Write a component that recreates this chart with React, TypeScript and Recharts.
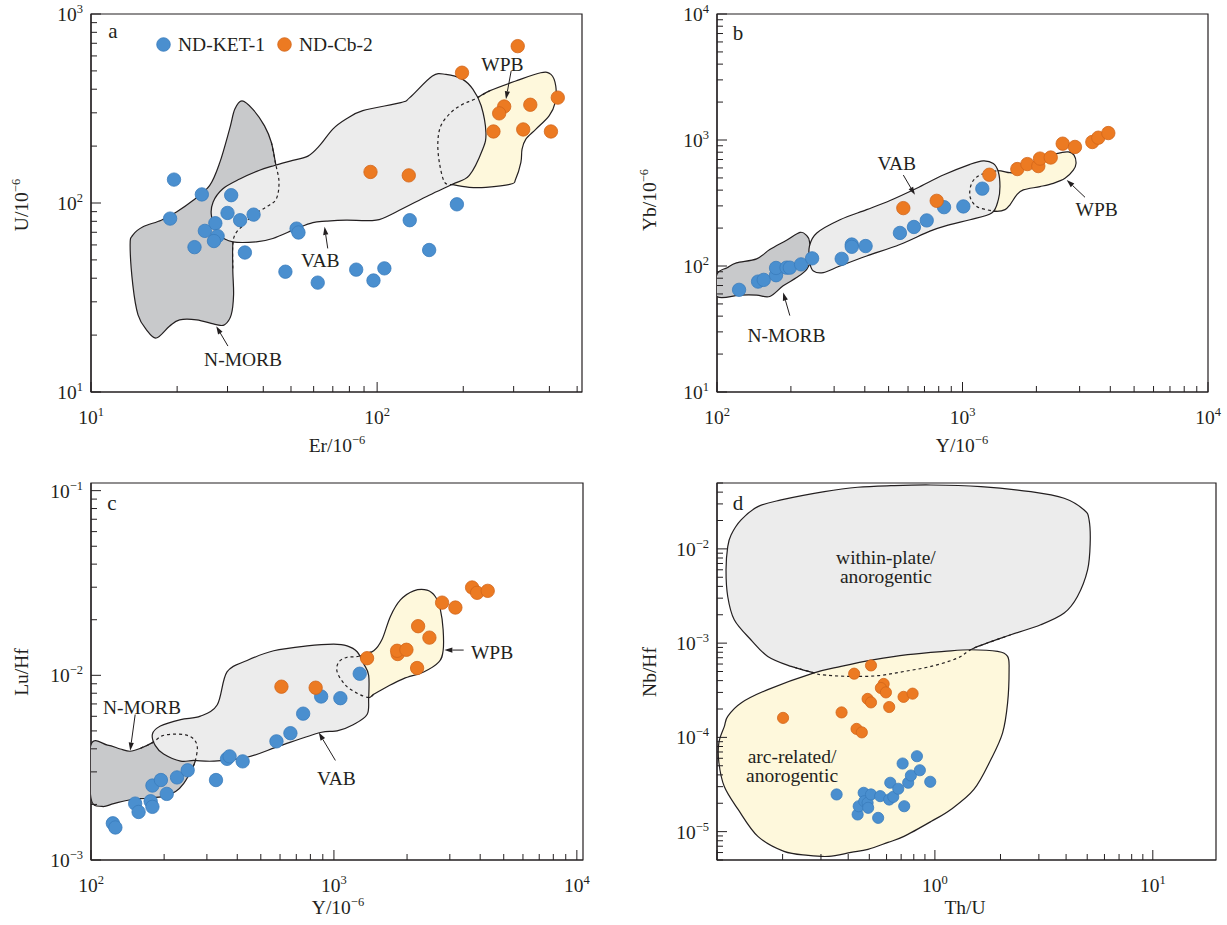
import React from 'react';
import { ScatterChart, Scatter, XAxis, YAxis, ReferenceArea } from 'recharts';

type Pair = [number, number];
type Note = { x: number; y: number; text: string };

const INK = '#231f20';
const FONT = '"Liberation Serif", "Times New Roman", serif';
const FS = 19.5;
const SUP = 12.5;
const BLUE = '#4a8fcf';
const BLUE_EDGE = '#3a7cbc';
const ORANGE = '#ec7a22';
const ORANGE_EDGE = '#d2661a';
const NMORB_FILL = '#c8c9cb';
const GREY_FILL = '#ececec';
const YELLOW_FILL = '#fef8dc';

const SERIES = [
  { name: 'ND-KET-1', color: BLUE, edge: BLUE_EDGE },
  { name: 'ND-Cb-2', color: ORANGE, edge: ORANGE_EDGE },
];

// ---------- a: U vs Er ----------
const erU_KET: Pair[] = [
  [19.5, 133], [18.9, 82.7], [24.4, 111], [30.9, 110], [30.0, 88.6], [33.2, 81.1], [37.0, 86.8],
  [27.2, 78.2], [25.0, 71.2], [27.7, 66.8], [26.9, 62.9], [23.0, 58.4], [34.5, 54.7],
  [52.3, 73.2], [53.1, 69.8], [47.8, 43.3], [62.0, 37.9], [84.5, 44.4], [97.1, 38.9],
  [106, 45.1], [130, 81.1], [152, 56.4], [190, 98.4],
];
const erU_CB: Pair[] = [
  [310, 676], [198, 489], [278, 324], [267, 298], [343, 331], [428, 361],
  [255, 239], [324, 245], [405, 239], [94.8, 146], [129, 140],
];
const erU_NMORB: Pair[] = [
  [33.7, 347], [36.8, 313], [40.4, 256], [42.7, 209], [44.2, 161], [45.4, 129], [44.4, 105],
  [41.0, 95.3], [36.8, 86.1], [34.0, 76.3], [31.5, 64.9], [31.3, 45.1], [31.5, 32.7], [30.9, 25.6],
  [29.3, 22.7], [27.4, 22.7], [23.4, 24.1], [20.4, 24.1], [18.8, 22.3], [16.9, 19.3], [15.6, 21.4],
  [14.6, 25.6], [14.0, 36.9], [13.7, 59.9], [14.0, 67.6], [15.2, 74.8], [17.6, 81.1], [19.9, 89.7],
  [22.7, 103], [26.0, 124], [28.2, 164], [30.5, 246], [31.8, 313],
];
const erU_VAB: Pair[] = [
  [26.4, 84.4], [26.7, 101], [28.9, 119], [33.1, 134], [38.8, 149], [43.8, 158], [50.7, 168],
  [57.3, 177], [62.9, 201], [70.0, 246], [77.9, 278], [89.1, 308], [121, 340], [130, 361],
  [156, 470], [174, 479], [199, 451], [216, 400], [231, 327], [240, 236], [234, 193], [210, 140],
  [184, 126], [152, 110], [116.5, 89.7], [99.2, 81.1], [77.9, 81.1], [66.4, 80.1], [59.6, 78.8],
  [52.2, 73.2], [43.2, 64.9], [37.8, 62.3], [31.3, 62.3], [28.2, 67.6],
];
const erU_WPB: Pair[] = [
  [172, 129], [165, 164], [163, 209], [167, 256], [181, 301], [199, 333], [219, 354], [247, 392],
  [305, 442], [373, 489], [405, 479], [421, 416], [419, 340], [399, 289], [359, 246], [331, 218],
  [321, 193], [318, 164], [305, 134], [294, 126], [240, 121], [210, 121], [184, 125],
];
const erU_NOTES: Note[] = [
  { x: 274, y: 541, text: 'WPB' },
  { x: 63.3, y: 49.9, text: 'VAB' },
  { x: 34.0, y: 14.9, text: 'N-MORB' },
];
const erU_ARROWS: Pair[][] = [
  [[294, 499], [282, 354]],
  [[67.2, 57.5], [65.5, 74.8]],
  [[30.1, 17.5], [27.4, 22.3]],
];

// ---------- b: Yb vs Y ----------
const yYb_KET: Pair[] = [
  [123, 64.7], [147, 75.2], [155, 77.6], [174, 84.5], [174, 96.5], [192, 97], [198, 97],
  [220, 103], [244, 115], [322, 114], [354, 148], [354, 142], [403, 144], [556, 183],
  [634, 204], [715, 230], [841, 293], [1008, 297], [1204, 411],
];
const yYb_CB: Pair[] = [
  [574, 288], [785, 329], [1286, 530], [1672, 588], [1837, 644], [2036, 621], [2069, 712],
  [2288, 726], [2559, 935], [2872, 881], [3379, 964], [3574, 1043], [3926, 1135],
];
const yYb_NMORB: Pair[] = [
  [100, 86], [110, 97], [120, 106], [145, 114], [164, 135], [192, 160], [218, 185], [232, 174],
  [238, 157], [241, 113], [232, 94.2], [211, 80.9], [186, 69.6], [164, 57.3], [145, 58.8],
  [124, 58.8], [100, 57.3],
];
const yYb_VAB: Pair[] = [
  [238, 144], [255, 183], [317, 233], [407, 280], [507, 331], [651, 414], [835, 527],
  [1073, 641], [1215, 683], [1335, 651], [1399, 560], [1421, 427], [1399, 335], [1315, 263],
  [1073, 233], [889, 213], [737, 189], [556, 148], [407, 120], [317, 100], [271, 88.6],
  [247, 91.3], [239, 106],
];
const yYb_WPB: Pair[] = [
  [1294, 276], [1142, 297], [1073, 356], [1090, 453], [1178, 527], [1378, 570], [1561, 550],
  [1688, 560], [1884, 651], [2134, 712], [2419, 780], [2698, 804], [2846, 758], [2900, 651],
  [2827, 577], [2615, 496], [2344, 453], [2069, 427], [1769, 402], [1663, 367], [1561, 306],
  [1490, 280], [1378, 271],
];
const yYb_NOTES: Note[] = [
  { x: 540, y: 651, text: 'VAB' },
  { x: 192, y: 28.1, text: 'N-MORB' },
  { x: 3521, y: 280, text: 'WPB' },
];
const yYb_ARROWS: Pair[][] = [
  [[574, 527], [640, 367]],
  [[198, 40.4], [186, 61.6]],
  [[3155, 351], [2658, 482]],
];

// ---------- c: Lu/Hf vs Y ----------
const yLuHf_KET: Pair[] = [
  [123, 0.00158], [126, 0.0015], [152, 0.00202], [157, 0.00182], [176, 0.00208], [179, 0.00194],
  [179, 0.00253], [194, 0.00271], [205, 0.00228], [226, 0.0028], [250, 0.00306], [327, 0.00271],
  [363, 0.00353], [372, 0.00364], [421, 0.00342], [580, 0.00439], [662, 0.00486], [747, 0.0062],
  [886, 0.00768], [1063, 0.00752], [1277, 0.0102],
];
const yLuHf_CB: Pair[] = [
  [608, 0.00868], [841, 0.00857], [1369, 0.01238], [1830, 0.01304], [1820, 0.01358],
  [1988, 0.01375], [2221, 0.01845], [2472, 0.016], [2200, 0.01095], [2788, 0.02475],
  [3162, 0.02328], [3705, 0.02989], [3885, 0.02798], [4296, 0.02867],
];
const yLuHf_NMORB: Pair[] = [
  [100, 0.00421], [117, 0.00419], [132, 0.00399], [145, 0.00388], [160, 0.00403], [179, 0.00432],
  [196, 0.0047], [219, 0.0048], [245, 0.00476], [265, 0.00451], [274, 0.00407], [269, 0.00346],
  [261, 0.00312], [241, 0.0026], [223, 0.00235], [199, 0.00221], [170, 0.00216], [145, 0.00212],
  [124, 0.00202], [111, 0.00195], [100, 0.00216],
];
const yLuHf_VAB: Pair[] = [
  [179, 0.0048], [193, 0.00531], [234, 0.00576], [282, 0.00601], [331, 0.00693], [363, 0.01043],
  [439, 0.01202], [565, 0.01358], [776, 0.01444], [998, 0.01474], [1133, 0.01444], [1246, 0.01342],
  [1326, 0.01154], [1390, 0.01], [1390, 0.00752], [1369, 0.00613], [1206, 0.00542], [1031, 0.005],
  [880, 0.0049], [602, 0.00416], [439, 0.0036], [320, 0.00343], [265, 0.00346], [234, 0.00343],
  [199, 0.00375], [184, 0.00416],
];
const yLuHf_WPB: Pair[] = [
  [1265, 0.01268], [1458, 0.01358], [1579, 0.01567], [1708, 0.02085], [1878, 0.02559],
  [2130, 0.02867], [2418, 0.02892], [2617, 0.02664], [2744, 0.02264], [2815, 0.01772],
  [2815, 0.01358], [2700, 0.01178], [2342, 0.01043], [1937, 0.0096], [1655, 0.00868],
  [1458, 0.0079], [1390, 0.00758], [1246, 0.008], [1115, 0.00885], [1031, 0.01043],
  [1047, 0.01178], [1133, 0.01253],
];
const yLuHf_NOTES: Note[] = [
  { x: 162, y: 0.00671, text: 'N-MORB' },
  { x: 1024, y: 0.00276, text: 'VAB' },
  { x: 4477, y: 0.01332, text: 'WPB' },
];
const yLuHf_ARROWS: Pair[][] = [
  [[152, 0.00613], [145, 0.00391]],
  [[1014, 0.00346], [866, 0.0049]],
  [[3421, 0.0137], [2849, 0.0137]],
];

// ---------- d: Nb/Hf vs Th/U ----------
const thuNbHf_KET: Pair[] = [
  [0.354, 2.48e-5], [0.442, 1.52e-5], [0.447, 1.86e-5], [0.471, 2.58e-5], [0.474, 2.1e-5],
  [0.491, 2.02e-5], [0.494, 1.79e-5], [0.509, 2.48e-5], [0.549, 1.4e-5], [0.561, 2.38e-5],
  [0.617, 2.19e-5], [0.624, 3.3e-5], [0.644, 2.34e-5], [0.679, 2.85e-5], [0.711, 5.28e-5],
  [0.723, 1.86e-5], [0.754, 3.3e-5], [0.776, 3.94e-5], [0.827, 6.31e-5], [0.853, 4.48e-5],
  [0.952, 3.38e-5],
];
const thuNbHf_CB: Pair[] = [
  [0.201, 1.61e-4], [0.373, 1.84e-4], [0.426, 4.74e-4], [0.509, 5.8e-4], [0.582, 3.69e-4],
  [0.565, 3.34e-4], [0.596, 3.0e-4], [0.491, 2.56e-4], [0.509, 2.35e-4], [0.617, 2.1e-4],
  [0.718, 2.69e-4], [0.79, 2.91e-4], [0.437, 1.23e-4], [0.462, 1.13e-4],
];
const thuNbHf_PLATE: Pair[] = [
  [0.11, 0.00599], [0.112, 0.01058], [0.116, 0.01407], [0.129, 0.0203], [0.154, 0.02806],
  [0.197, 0.03305], [0.311, 0.04046], [0.442, 0.04504], [0.628, 0.04684], [0.959, 0.04764],
  [1.626, 0.04571], [2.756, 0.04046], [3.919, 0.03444], [4.84, 0.02588], [5.1, 0.0203],
  [5.16, 0.01149], [5.02, 0.00599], [4.51, 0.003125], [3.92, 0.002085], [3.06, 0.001566],
  [2.23, 0.001227], [1.514, 0.000887], [1.271, 0.000695], [0.959, 0.000566], [0.723, 0.000501],
  [0.546, 0.000451], [0.398, 0.000444], [0.3, 0.000463], [0.279, 0.000483], [0.219, 0.000566],
  [0.171, 0.000723], [0.143, 0.001086], [0.12, 0.00177], [0.112, 0.003125],
];
const thuNbHf_ARC: Pair[] = [
  [0.112, 1.673e-4], [0.129, 2.32e-4], [0.171, 3.21e-4], [0.279, 4.83e-4], [0.371, 5.66e-4],
  [0.527, 6.67e-4], [0.75, 7.54e-4], [1.103, 8.17e-4], [1.463, 8.51e-4], [1.94, 8.17e-4],
  [2.156, 7.23e-4], [2.19, 5.23e-4], [2.156, 2.32e-4], [2.045, 1.116e-4], [1.807, 5.82e-5],
  [1.51, 2.8e-5], [1.184, 1.72e-5], [0.959, 1.28e-5], [0.721, 8.9e-6], [0.609, 7.69e-6],
  [0.493, 6.48e-6], [0.412, 6.02e-6], [0.326, 5.46e-6], [0.262, 5.6e-6], [0.203, 6.17e-6],
  [0.154, 8.9e-6], [0.125, 1.72e-5], [0.108, 3.01e-5], [0.102, 5.41e-5], [0.102, 8.81e-5],
  [0.108, 1.302e-4],
];
const thuNbHf_NOTES: Note[] = [
  { x: 0.596, y: 0.00645, text: 'within-plate/\nanorogentic' },
  { x: 0.221, y: 5.03e-5, text: 'arc-related/\nanorogentic' },
];

// ---------- helpers ----------
type XY = { x: number; y: number };

const toXY = (d: Pair[]) => d.map(([x, y]) => ({ x, y }));

function logTicks(lo: number, hi: number) {
  const out: number[] = [];
  for (let e = Math.floor(Math.log10(lo)); e <= Math.ceil(Math.log10(hi)); e++) {
    for (let m = 1; m <= 9; m++) {
      const v = Number((m * Math.pow(10, e)).toPrecision(4));
      if (v >= lo * 0.9999 && v <= hi * 1.0001) out.push(v);
    }
  }
  return out;
}

// Catmull-Rom through the vertices, written out as cubic beziers
function smoothPath(raw: XY[], closed: boolean) {
  const pts = raw.filter((p) => p && p.x != null && p.y != null);
  const n = pts.length;
  if (n < 2) return '';
  const at = (i: number) => (closed ? pts[(i + n) % n] : pts[Math.max(0, Math.min(n - 1, i))]);
  let d = `M${pts[0].x},${pts[0].y}`;
  const segs = closed ? n : n - 1;
  for (let i = 0; i < segs; i++) {
    const p0 = at(i - 1), p1 = at(i), p2 = at(i + 1), p3 = at(i + 2);
    const c1x = p1.x + (p2.x - p0.x) / 6, c1y = p1.y + (p2.y - p0.y) / 6;
    const c2x = p2.x - (p3.x - p1.x) / 6, c2y = p2.y - (p3.y - p1.y) / 6;
    d += ` C${c1x},${c1y} ${c2x},${c2y} ${p2.x},${p2.y}`;
  }
  return closed ? d + ' Z' : d;
}

const noMark = () => <g />;

const fieldLine = (fill: string) => (lp: any) => (
  <path d={smoothPath(lp.points, true)} fill={fill} stroke={INK} strokeWidth={1.2} strokeLinejoin="round" />
);

const hiddenLine = (lp: any) => (
  <path d={smoothPath(lp.points, false)} fill="none" stroke={INK} strokeWidth={1.2} strokeDasharray="3 3" />
);

const arrowLine = (lp: any) => {
  const [a, b] = lp.points;
  const dx = b.x - a.x, dy = b.y - a.y;
  const len = Math.hypot(dx, dy) || 1;
  const ux = dx / len, uy = dy / len;
  const hl = 8, hw = 2.6;
  const bx = b.x - ux * hl, by = b.y - uy * hl;
  return (
    <g>
      <line x1={a.x} y1={a.y} x2={bx} y2={by} stroke={INK} strokeWidth={1} />
      <path d={`M${b.x},${b.y} L${bx - uy * hw},${by + ux * hw} L${bx + uy * hw},${by - ux * hw} Z`} fill={INK} />
    </g>
  );
};

const noteShape = (p: any) => {
  const lines = String(p.payload.text).split('\n');
  const lh = 19;
  const y0 = p.cy - ((lines.length - 1) * lh) / 2;
  return (
    <text textAnchor="middle" fontSize={FS} fill={INK} fontFamily={FONT}>
      {lines.map((s, i) => (
        <tspan key={i} x={p.cx} y={y0 + i * lh} dy="0.35em">{s}</tspan>
      ))}
    </text>
  );
};

const dotShape = (fill: string, edge: string, r: number) => (p: any) => (
  <circle cx={p.cx} cy={p.cy} r={r} fill={fill} stroke={edge} strokeWidth={0.8} />
);

function LogTick(props: any) {
  const { x, y, payload, axis, labels } = props;
  const v = payload.value;
  const e = Math.log10(v);
  const exp = Math.round(e);
  const major = Math.abs(e - exp) < 1e-6;
  const len = major ? 10 : 6;
  const show = major && labels.some((l: number) => Math.abs(l - v) / l < 1e-6);
  const expText = exp < 0 ? `\u2212${-exp}` : `${exp}`;
  if (axis === 'x') {
    return (
      <g>
        <line x1={x} x2={x} y1={y} y2={y - len} stroke={INK} strokeWidth={1} />
        {show && (
          <text x={x} y={y + 32} textAnchor="middle" fontSize={FS} fill={INK} fontFamily={FONT}>
            10<tspan dy={-8} fontSize={SUP}>{expText}</tspan>
          </text>
        )}
      </g>
    );
  }
  return (
    <g>
      <line x1={x} x2={x + len} y1={y} y2={y} stroke={INK} strokeWidth={1} />
      {show && (
        <text x={x - 8} y={y + 7} textAnchor="end" fontSize={FS} fill={INK} fontFamily={FONT}>
          10<tspan dy={-8} fontSize={SUP}>{expText}</tspan>
        </text>
      )}
    </g>
  );
}

type PanelSpec = {
  left: number; top: number; width: number; height: number;
  margin: { top: number; right: number; bottom: number; left: number };
  xAxisH: number;
  xDomain: [number, number]; yDomain: [number, number];
  xLabels: number[]; yLabels: number[];
  fields: { data: Pair[]; fill: string }[];
  hidden: Pair[][];
  arrows: Pair[][];
  notes: Note[];
  ket: Pair[]; cb: Pair[]; r: number;
};

function Panel(p: PanelSpec) {
  return (
    <div style={{ position: 'absolute', left: p.left, top: p.top }}>
      <ScatterChart width={p.width} height={p.height} margin={p.margin}>
        <XAxis
          type="number" dataKey="x" scale="log" domain={p.xDomain} allowDataOverflow
          ticks={logTicks(p.xDomain[0], p.xDomain[1])} interval={0}
          tickLine={false} tickSize={0} tickMargin={0} height={p.xAxisH}
          axisLine={{ stroke: INK, strokeWidth: 1.2 }}
          tick={(t: any) => <LogTick {...t} axis="x" labels={p.xLabels} />}
        />
        <YAxis
          type="number" dataKey="y" scale="log" domain={p.yDomain} allowDataOverflow
          ticks={logTicks(p.yDomain[0], p.yDomain[1])} interval={0}
          tickLine={false} tickSize={0} tickMargin={0} width={60}
          axisLine={{ stroke: INK, strokeWidth: 1.2 }}
          tick={(t: any) => <LogTick {...t} axis="y" labels={p.yLabels} />}
        />
        {p.fields.map((f, i) => (
          <Scatter key={`field-${i}`} data={toXY(f.data)} shape={noMark} line={fieldLine(f.fill)}
            legendType="none" isAnimationActive={false} />
        ))}
        {p.hidden.map((h, i) => (
          <Scatter key={`hidden-${i}`} data={toXY(h)} shape={noMark} line={hiddenLine}
            legendType="none" isAnimationActive={false} />
        ))}
        {p.arrows.map((a, i) => (
          <Scatter key={`arrow-${i}`} data={toXY(a)} shape={noMark} line={arrowLine}
            legendType="none" isAnimationActive={false} />
        ))}
        <Scatter key="notes" data={p.notes} shape={noteShape} legendType="none" isAnimationActive={false} />
        <Scatter key="ket" name={SERIES[0].name} data={toXY(p.ket)}
          shape={dotShape(SERIES[0].color, SERIES[0].edge, p.r)} isAnimationActive={false} />
        <Scatter key="cb" name={SERIES[1].name} data={toXY(p.cb)}
          shape={dotShape(SERIES[1].color, SERIES[1].edge, p.r)} isAnimationActive={false} />
        <ReferenceArea x1={p.xDomain[0]} x2={p.xDomain[1]} y1={p.yDomain[0]} y2={p.yDomain[1]}
          fill="none" fillOpacity={0} stroke={INK} strokeWidth={1.2} ifOverflow="visible" />
      </ScatterChart>
    </div>
  );
}

const panelA: PanelSpec = {
  left: 0, top: 0, width: 613, height: 462,
  margin: { top: 14, right: 31, bottom: 10, left: 31 }, xAxisH: 60,
  xDomain: [10, 520], yDomain: [10, 1000],
  xLabels: [10, 100], yLabels: [10, 100, 1000],
  fields: [
    { data: erU_NMORB, fill: NMORB_FILL },
    { data: erU_WPB, fill: YELLOW_FILL },
    { data: erU_VAB, fill: GREY_FILL },
  ],
  hidden: [erU_NMORB.slice(3, 12), [erU_WPB[erU_WPB.length - 1], ...erU_WPB.slice(0, 8)]],
  arrows: erU_ARROWS, notes: erU_NOTES,
  ket: erU_KET, cb: erU_CB, r: 6.7,
};

const panelB: PanelSpec = {
  left: 613, top: 0, width: 614, height: 462,
  margin: { top: 14, right: 19, bottom: 10, left: 44 }, xAxisH: 60,
  xDomain: [100, 10000], yDomain: [10, 10000],
  xLabels: [100, 1000, 10000], yLabels: [10, 100, 1000, 10000],
  fields: [
    { data: yYb_NMORB, fill: NMORB_FILL },
    { data: yYb_WPB, fill: YELLOW_FILL },
    { data: yYb_VAB, fill: GREY_FILL },
  ],
  hidden: [[yYb_WPB[yYb_WPB.length - 1], ...yYb_WPB.slice(0, 6)]],
  arrows: yYb_ARROWS, notes: yYb_NOTES,
  ket: yYb_KET, cb: yYb_CB, r: 6.7,
};

const panelC: PanelSpec = {
  left: 0, top: 462, width: 613, height: 463,
  margin: { top: 21, right: 30, bottom: 10, left: 31 }, xAxisH: 55,
  xDomain: [100, 10600], yDomain: [0.001, 0.11],
  xLabels: [100, 1000, 10000], yLabels: [0.001, 0.01, 0.1],
  fields: [
    { data: yLuHf_NMORB, fill: NMORB_FILL },
    { data: yLuHf_WPB, fill: YELLOW_FILL },
    { data: yLuHf_VAB, fill: GREY_FILL },
  ],
  hidden: [yLuHf_NMORB.slice(4, 13), [...yLuHf_WPB.slice(15), yLuHf_WPB[0], yLuHf_WPB[1]]],
  arrows: yLuHf_ARROWS, notes: yLuHf_NOTES,
  ket: yLuHf_KET, cb: yLuHf_CB, r: 6.7,
};

const panelD: PanelSpec = {
  left: 613, top: 462, width: 614, height: 463,
  margin: { top: 21, right: 11, bottom: 10, left: 44 }, xAxisH: 55,
  xDomain: [0.1, 19.5], yDomain: [5e-6, 0.05],
  xLabels: [1, 10], yLabels: [1e-5, 1e-4, 1e-3, 1e-2],
  fields: [
    { data: thuNbHf_PLATE, fill: GREY_FILL },
    { data: thuNbHf_ARC, fill: YELLOW_FILL },
  ],
  hidden: [thuNbHf_PLATE.slice(20, 30)],
  arrows: [], notes: thuNbHf_NOTES,
  ket: thuNbHf_KET, cb: thuNbHf_CB, r: 5.6,
};

const xTitles = [
  { main: 'Er/10', sup: '\u22126', x: 337, y: 446 },
  { main: 'Y/10', sup: '\u22126', x: 962, y: 446 },
  { main: 'Y/10', sup: '\u22126', x: 338, y: 908 },
  { main: 'Th/U', sup: '', x: 965, y: 908 },
];
const yTitles = [
  { main: 'U/10', sup: '\u22126', x: 22, y: 205 },
  { main: 'Yb/10', sup: '\u22126', x: 650, y: 200 },
  { main: 'Lu/Hf', sup: '', x: 22, y: 672 },
  { main: 'Nb/Hf', sup: '', x: 650, y: 672 },
];
const letters = [
  { t: 'a', x: 113, y: 31 },
  { t: 'b', x: 738, y: 33 },
  { t: 'c', x: 112, y: 503 },
  { t: 'd', x: 738, y: 503 },
];

const textStyle: React.CSSProperties = {
  position: 'absolute', fontFamily: FONT, fontSize: FS, color: INK, whiteSpace: 'nowrap', lineHeight: 1,
};
const supStyle: React.CSSProperties = { fontSize: SUP, position: 'relative', top: -8 };

export default function App() {
  return (
    <div style={{ position: 'absolute', left: 0, top: 0, width: 1227, height: 925, background: '#fff', overflow: 'hidden' }}>
      <Panel {...panelA} />
      <Panel {...panelB} />
      <Panel {...panelC} />
      <Panel {...panelD} />

      {xTitles.map((t, i) => (
        <div key={`xt${i}`} style={{ ...textStyle, left: t.x, top: t.y, transform: 'translate(-50%, -50%)' }}>
          {t.main}{t.sup && <span style={supStyle}>{t.sup}</span>}
        </div>
      ))}
      {yTitles.map((t, i) => (
        <div key={`yt${i}`} style={{ ...textStyle, left: t.x, top: t.y, transform: 'translate(-50%, -50%) rotate(-90deg)' }}>
          {t.main}{t.sup && <span style={supStyle}>{t.sup}</span>}
        </div>
      ))}
      {letters.map((l) => (
        <div key={l.t} style={{ ...textStyle, fontSize: 21, left: l.x, top: l.y, transform: 'translate(-50%, -50%)' }}>
          {l.t}
        </div>
      ))}

      {/* legend for panel a */}
      <div style={{ position: 'absolute', left: 156, top: 34.5, display: 'flex', alignItems: 'center' }}>
        {SERIES.map((s, i) => (
          <div key={s.name} style={{ display: 'flex', alignItems: 'center', marginRight: i === 0 ? 12 : 0 }}>
            <svg width={15} height={15} style={{ marginRight: 7 }}>
              <circle cx={7.5} cy={7.5} r={6.8} fill={s.color} stroke={s.edge} strokeWidth={0.8} />
            </svg>
            <span style={{ fontFamily: FONT, fontSize: FS, color: INK, lineHeight: 1 }}>{s.name}</span>
          </div>
        ))}
      </div>
    </div>
  );
}
